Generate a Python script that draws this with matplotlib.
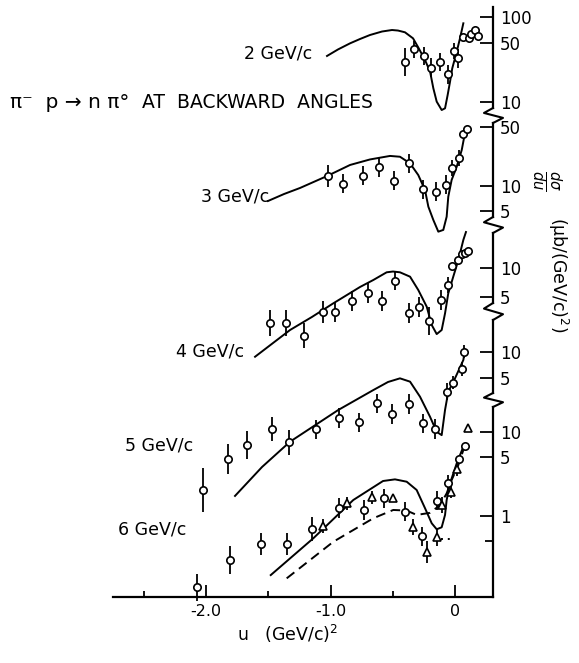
import numpy as np
import matplotlib
matplotlib.use("Agg")
import matplotlib.pyplot as plt
from matplotlib.lines import Line2D
from matplotlib.ticker import NullLocator, FixedLocator

# values: u in (GeV/c)^2, dsigma/du in mub/(GeV/c)^2
# err_* = multiplicative size of the error bar (1.0 -> no bar)
momenta = ["2 GeV/c", "3 GeV/c", "4 GeV/c", "5 GeV/c", "6 GeV/c"]

u_2 = [-0.40, -0.33, -0.25, -0.195, -0.12, -0.059, -0.008, 0.027, 0.062, 0.112, 0.129, 0.16, 0.187]
ds_2 = [29.8, 41.7, 35.0, 25.3, 29.3, 21.2, 39.8, 32.7, 58.6, 56.2, 63.0, 70.3, 60.2]
err_2 = [1.46, 1.25, 1.28, 1.3, 1.28, 1.3, 1.25, 1.3, 1.0, 1.0, 1.0, 1.0, 1.0]
fit_u_2 = [-1.028, -0.94, -0.843, -0.763, -0.683, -0.586, -0.506, -0.458, -0.402, -0.337,
           -0.295, -0.241, -0.20, -0.174, -0.147, -0.107, -0.08, -0.059, -0.04, -0.022,
           0.014, 0.04, 0.067]
fit_ds_2 = [34.8, 41.5, 49.0, 55.1, 61.4, 67.5, 70.3, 69.3, 66.1, 56.1,
            43.8, 31.2, 22.7, 14.5, 10.1, 8.05, 8.43, 12.1, 17.3, 24.9,
            39.1, 56.1, 84.3]

u_3 = [-1.018, -0.897, -0.741, -0.61, -0.488, -0.369, -0.255, -0.155, -0.072, -0.022, 0.032, 0.064, 0.096]
ds_3 = [13.3, 10.6, 13.2, 16.7, 11.6, 18.6, 9.13, 8.55, 10.3, 16.5, 21.4, 41.6, 47.7]
err_3 = [1.35, 1.3, 1.3, 1.3, 1.3, 1.3, 1.3, 1.3, 1.3, 1.25, 1.25, 1.0, 1.0]
fit_u_3 = [-1.502, -1.373, -1.245, -1.02, -0.843, -0.683, -0.522, -0.442, -0.361, -0.295,
           -0.241, -0.214, -0.174, -0.134, -0.094, -0.067, -0.054, -0.027, 0.014, 0.054, 0.08]
fit_ds_3 = [6.63, 8.03, 9.47, 13.3, 17.8, 20.7, 22.8, 22.3, 18.6, 13.5,
            8.96, 5.67, 3.94, 2.86, 3.0, 4.31, 7.46, 11.8, 17.0, 26.8, 42.7]

u_4 = [-1.486, -1.357, -1.213, -1.063, -0.964, -0.83, -0.702, -0.584, -0.482, -0.369,
       -0.289, -0.209, -0.112, -0.054, -0.022, 0.022, 0.056, 0.08, 0.104]
ds_4 = [2.69, 2.69, 1.96, 3.51, 3.51, 4.56, 5.45, 4.56, 7.38, 3.37,
        3.9, 2.8, 4.64, 6.65, 10.5, 12.1, 14.0, 14.5, 15.0]
err_4 = [1.37, 1.37, 1.35, 1.3, 1.27, 1.27, 1.27, 1.27, 1.25, 1.27,
         1.27, 1.4, 1.27, 1.2, 1.0, 1.0, 1.0, 1.0, 1.0]
fit_u_4 = [-1.606, -1.325, -1.149, -0.977, -0.763, -0.656, -0.549, -0.498, -0.442, -0.361,
           -0.295, -0.227, -0.187, -0.147, -0.107, -0.08, -0.054, -0.014, 0.027, 0.067, 0.088]
fit_ds_4 = [1.19, 2.26, 3.09, 4.29, 6.34, 7.5, 9.02, 9.19, 9.02, 8.12,
            5.9, 3.95, 2.55, 2.05, 2.26, 3.37, 5.45, 8.12, 12.1, 19.6, 23.7]

u_5 = [-2.027, -1.823, -1.671, -1.47, -1.332, -1.116, -0.929, -0.771, -0.629, -0.504,
       -0.369, -0.259, -0.161, -0.062, -0.014, 0.054, 0.075]
ds_5 = [0.248, 0.57, 0.83, 1.28, 0.887, 1.26, 1.72, 1.52, 2.53, 1.89,
        2.47, 1.48, 1.27, 3.45, 4.4, 6.35, 10.1]
err_5 = [1.8, 1.5, 1.45, 1.38, 1.38, 1.3, 1.3, 1.3, 1.3, 1.3,
         1.3, 1.3, 1.3, 1.25, 1.2, 1.2, 1.2]
fit_u_5 = [-1.767, -1.55, -1.325, -0.937, -0.656, -0.538, -0.442, -0.361, -0.281, -0.201,
           -0.147, -0.107, -0.08, -0.054, 0.0, 0.067, 0.08]
fit_ds_5 = [0.212, 0.46, 0.906, 2.12, 3.61, 4.48, 4.94, 4.52, 3.02, 1.77,
            1.18, 1.08, 2.12, 3.45, 4.94, 8.07, 10.5]

u_6 = [-2.075, -1.807, -1.561, -1.347, -1.146, -0.929, -0.731, -0.568, -0.402, -0.268,
       -0.142, -0.054, 0.034, 0.08]
ds_6 = [0.142, 0.30, 0.46, 0.46, 0.70, 1.24, 1.18, 1.62, 1.13, 0.573,
        1.52, 2.49, 4.77, 6.87]
err_6 = [1.45, 1.47, 1.35, 1.35, 1.38, 1.32, 1.32, 1.3, 1.3, 1.3,
         1.3, 1.25, 1.0, 1.0]
u_6t = [-1.063, -0.865, -0.669, -0.494, -0.335, -0.223, -0.141, -0.107, -0.035, 0.018, 0.107]
ds_6t = [0.76, 1.42, 1.67, 1.64, 0.733, 0.376, 0.555, 1.35, 1.95, 3.63, 11.2]
err_6t = [1.2, 1.2, 1.2, 1.0, 1.25, 1.35, 1.25, 1.25, 1.2, 1.2, 1.0]
fit_u_6 = [-1.48, -1.138, -0.817, -0.578, -0.482, -0.388, -0.308, -0.241, -0.187, -0.147,
           -0.107, -0.08, -0.067, -0.04, 0.014, 0.067]
fit_ds_6 = [0.198, 0.543, 1.55, 2.61, 2.73, 2.56, 2.04, 1.24, 0.819, 0.695,
            0.734, 1.03, 1.55, 2.45, 4.24, 6.68]
fit2_u_6 = [-1.352, -0.977, -0.656, -0.496, -0.388, -0.308, -0.201, -0.12, -0.067, -0.027, 0.027, 0.067]
fit2_ds_6 = [0.181, 0.494, 0.94, 1.18, 1.16, 1.03, 1.09, 1.35, 1.86, 2.68, 4.05, 6.1]
dot_u_6 = [-0.112, -0.024]
dot_ds_6 = [0.53, 0.53]

tick_vals = [[100, 50, 10], [50, 10, 5], [10, 5], [10, 5], [10, 5, 1]]
xtick_major = [-2.0, -1.0, 0.0]
xtick_labels = ["-2.0", "-1.0", "0"]
xtick_minor = [-2.5, -1.5, -0.5]

# ---- layout (pixels) ----
W, H = 579, 663
fig = plt.figure(figsize=(W / 100, H / 100), dpi=100)
fig.patch.set_facecolor("white")

x_left, x_right = 113, 493
x_zero, px_per_u = 455, 124.5
u_lim = ((x_left - x_zero) / px_per_u, (x_right - x_zero) / px_per_u)
# top, bottom, y of the "10" tick, pixels per decade
panel_px = [(7, 108, 102, 85), (123, 217, 186, 84), (233, 303, 268, 96),
            (320, 393, 352, 86), (407, 597, 432, 84)]


def fx(x):
    return x / W


def fy(y):
    return 1 - y / H


def make_panel(top, bot, p10, dec, vals):
    ax = fig.add_axes([fx(x_left), fy(bot), (x_right - x_left) / W, (bot - top) / H])
    ax.patch.set_alpha(0)
    ax.set_yscale("log")
    ax.set_ylim(10 ** (1 + (p10 - bot) / dec), 10 ** (1 + (p10 - top) / dec))
    ax.set_xlim(*u_lim)
    for s in ("top", "left", "bottom"):
        ax.spines[s].set_visible(False)
    ax.spines["right"].set_linewidth(1.6)
    ax.yaxis.tick_right()
    ax.set_yticks(vals, labels=[str(v) for v in vals])
    ax.yaxis.set_minor_locator(NullLocator())
    ax.tick_params(axis="y", which="major", direction="in", length=9.5, width=1.3,
                   pad=5, labelsize=12)
    ax.tick_params(axis="y", which="minor", direction="in", length=6, width=1.3)
    ax.set_xticks([])
    return ax


def points(ax, u, ds, err, marker, ms):
    ds = np.asarray(ds, dtype=float)
    f = np.asarray(err, dtype=float)
    eb = ax.errorbar(u, ds, yerr=[ds - ds / f, ds * f - ds], fmt="none",
                     ecolor="black", elinewidth=1.3, capsize=0)
    for a in eb.get_children():
        a.set_clip_on(False)
    ax.plot(u, ds, linestyle="none", marker=marker, ms=ms, mfc="white", mec="black",
            mew=1.2, clip_on=False, zorder=3)


def curve(ax, u, ds, **kw):
    ax.plot(u, ds, color="black", lw=1.4, clip_on=False, **kw)


axes = [make_panel(*p, v) for p, v in zip(panel_px, tick_vals)]

points(axes[0], u_2, ds_2, err_2, "o", 5.3)
curve(axes[0], fit_u_2, fit_ds_2)
points(axes[1], u_3, ds_3, err_3, "o", 5.3)
curve(axes[1], fit_u_3, fit_ds_3)
points(axes[2], u_4, ds_4, err_4, "o", 5.3)
curve(axes[2], fit_u_4, fit_ds_4)
points(axes[3], u_5, ds_5, err_5, "o", 5.3)
curve(axes[3], fit_u_5, fit_ds_5)
ax6 = axes[4]
curve(ax6, fit_u_6, fit_ds_6)
curve(ax6, fit2_u_6, fit2_ds_6, linestyle=(0, (5, 3)))
curve(ax6, dot_u_6, dot_ds_6, linestyle=(0, (1, 2.5)))
points(ax6, u_6, ds_6, err_6, "o", 5.3)
points(ax6, u_6t, ds_6t, err_6t, "^", 6)

# unlabeled 0.5 tick and the u axis on the lowest panel
ax6.yaxis.set_minor_locator(FixedLocator([0.5]))
ax6.spines["bottom"].set_visible(True)
ax6.spines["bottom"].set_linewidth(1.6)
ax6.set_xticks(xtick_major, labels=xtick_labels)
ax6.set_xticks(xtick_minor, minor=True)
ax6.tick_params(axis="x", which="major", direction="in", length=9, width=1.3,
                pad=5, labelsize=11.5)
ax6.tick_params(axis="x", which="minor", direction="in", length=4, width=1.3)

# zigzag breaks of the stacked y axis
for (a, b) in [(panel_px[i][1], panel_px[i + 1][0]) for i in range(4)]:
    g = b - a
    xs = [x_right, x_right - 9, x_right + 10, x_right]
    ys = [a, a + 0.33 * g, a + 0.66 * g, b]
    fig.add_artist(Line2D([fx(x) for x in xs], [fy(y) for y in ys],
                          transform=fig.transFigure, color="black", lw=1.5))

# text
lab_pos = [(278, 53), (235, 196), (210, 352), (159, 445), (152, 530)]
for name, (x, y) in zip(momenta, lab_pos):
    fig.text(fx(x), fy(y), name, ha="center", va="center", fontsize=12.5)

fig.text(fx(10), fy(103), "π⁻  p → n π°", ha="left", va="center", fontsize=14.5)
fig.text(fx(142), fy(103), "AT  BACKWARD  ANGLES", ha="left", va="center", fontsize=13.5)
fig.text(fx(288), fy(634), "u   (GeV/c)$^{2}$", ha="center", va="center", fontsize=12.5)
fig.text(fx(546), fy(180), r"$\frac{d\sigma}{du}$", ha="center", va="center",
         rotation=270, fontsize=15)
fig.text(fx(558), fy(275), "(μb/(GeV/c)$^{2}$)", ha="center", va="center",
         rotation=270, fontsize=12.5)

fig.savefig("out.png", dpi=100)
